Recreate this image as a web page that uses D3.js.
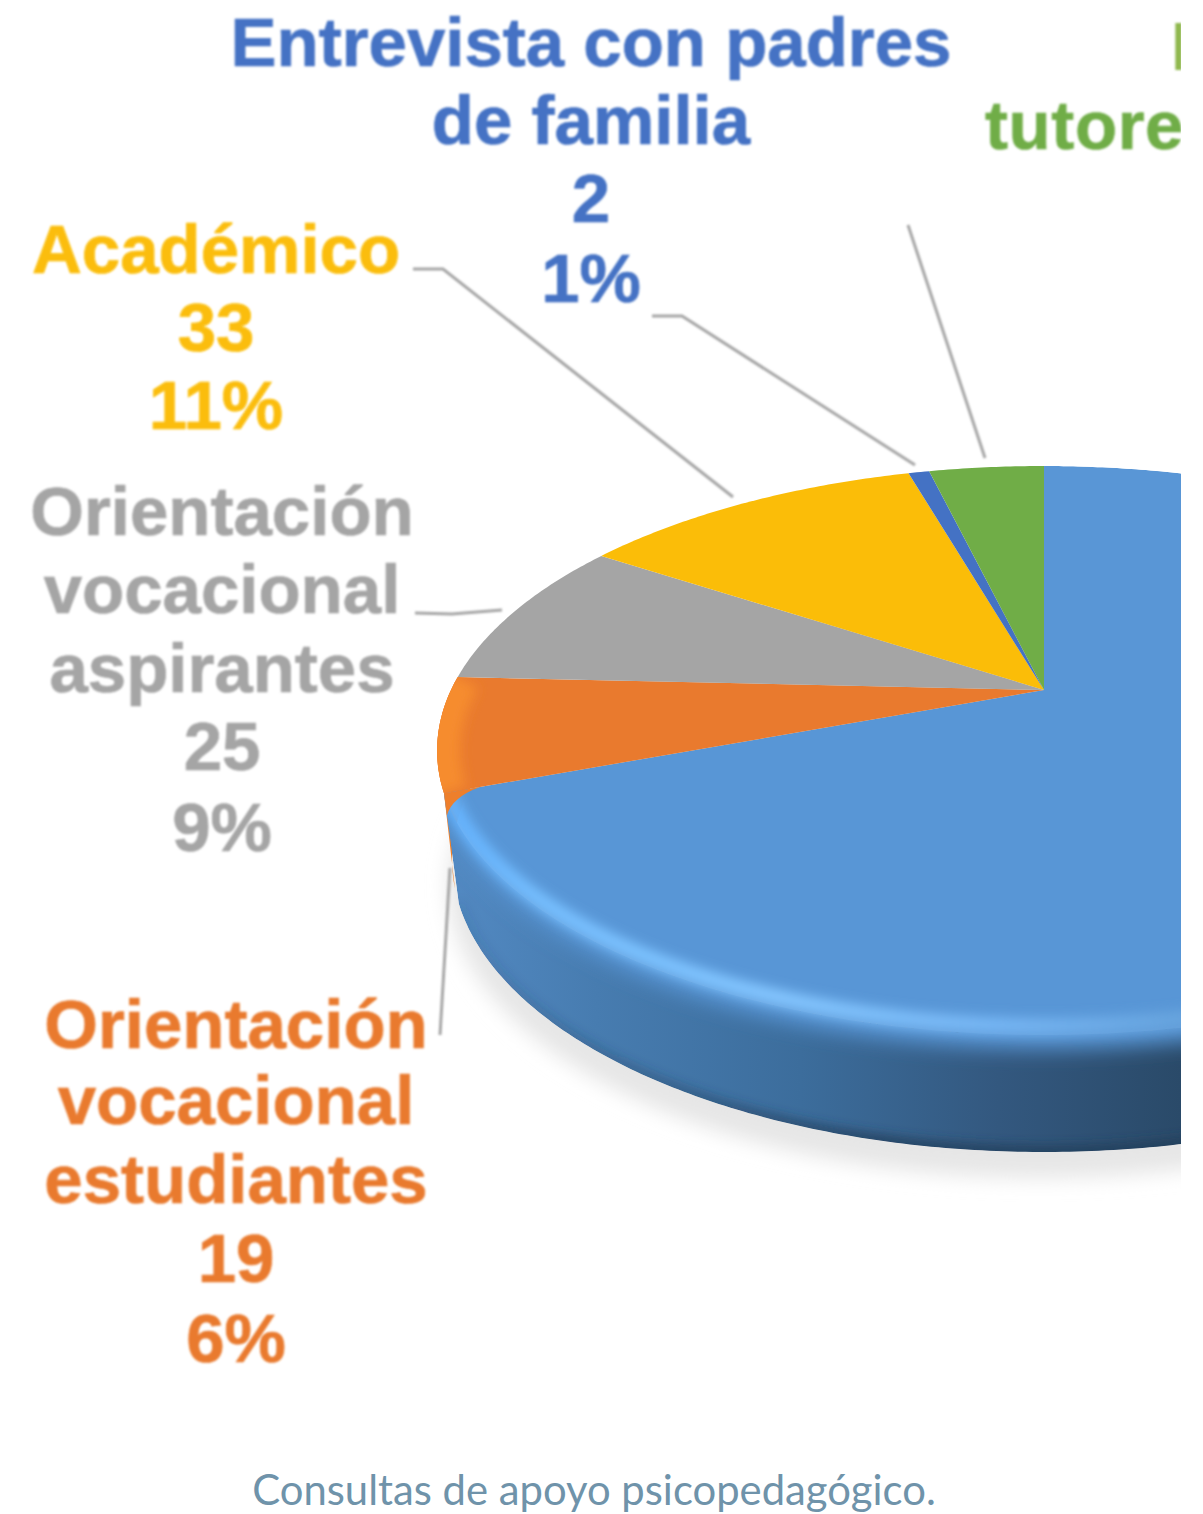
<!DOCTYPE html>
<html>
<head>
<meta charset="utf-8">
<script src="https://cdn.jsdelivr.net/npm/d3@7"></script>
<style>
  html, body { margin: 0; padding: 0; background: #fff; }
  svg { display: block; }
</style>
</head>
<body>
<div id="chart"></div>
<script>
// values in pie order, clockwise from twelve o'clock
var categories = ["Principal", "Orientación vocacional estudiantes", "Orientación vocacional aspirantes", "Académico", "Entrevista con padres de familia", "Entrevista con tutores"];
var values = [203, 19, 25, 33, 2, 11];
var colors = ["#5996d6", "#e97a2e", "#a5a5a5", "#fbbd08", "#4472c4", "#70ad47"];
var caption = "Consultas de apoyo psicopedagógico.";

var width = 1203, height = 1514, cropX = 1181;

var svg = d3.select("#chart").append("svg").attr("width", width).attr("height", height);
var defs = svg.append("defs");

function blur(id, dev) {
	defs.append("filter").attr("id", id)
		.attr("filterUnits", "userSpaceOnUse")
		.attr("x", 0).attr("y", 0).attr("width", width).attr("height", height)
		.append("feGaussianBlur").attr("stdDeviation", dev);
}
blur("b1", 0.8);
blur("b6", 6);
blur("b10", 10);

defs.append("clipPath").attr("id", "crop").append("rect")
	.attr("width", cropX).attr("height", height);

// perspective view of the disc
var cx = 1044, apexY = 690, k = 0.2127, ay = 271.6, ax = 593;
function rim(a) {
	var u = Math.sin(a), v = -Math.cos(a), w = 1 - k * v;
	return [cx + ax * u / w, apexY + ay * v / w];
}
function low(a) {
	var p = rim(a);
	return [cx + (p[0] - cx) * 592 / 607, 860 + (p[1] - 750.5) * 292 / 284.5];
}
function sweep(f, a0, a1) {
	var n = Math.max(2, Math.ceil(Math.abs(a1 - a0) / 0.01));
	return d3.range(n + 1).map(function(i) { return f(a0 + (a1 - a0) * i / n); });
}
function lerp(p, q, t) { return [p[0] + (q[0] - p[0]) * t, p[1] + (q[1] - p[1]) * t]; }
function gradient(id, stops) {
	var g = defs.append("linearGradient").attr("id", id)
		.attr("gradientUnits", "userSpaceOnUse")
		.attr("x1", 450).attr("x2", cropX).attr("y1", 0).attr("y2", 0);
	stops.forEach(function(s) {
		g.append("stop").attr("offset", s[0]).attr("stop-color", s[1]).attr("stop-opacity", s[2] === undefined ? 1 : s[2]);
	});
}
var line = d3.line();
var apex = [cx, apexY];

var arcs = d3.pie().sort(null)(values);
var total = d3.sum(values);
var mainEnd = arcs[0].endAngle;

var chart = svg.append("g").attr("clip-path", "url(#crop)");

// floor shadow
chart.append("path")
	.attr("d", line(sweep(function(a) { var p = low(a); return [p[0] - 4, p[1] + 26]; }, 0, 2 * Math.PI)) + "Z")
	.attr("fill", "#e6e6e6")
	.attr("filter", "url(#b10)");

// orange side
var orangeSide = sweep(rim, arcs[1].endAngle, mainEnd).concat(sweep(low, mainEnd + 0.05, arcs[1].endAngle));
chart.append("path").attr("d", line(orangeSide) + "Z").attr("fill", "#f08028");

// blue side
gradient("wall", [[0, "#5289c2"], [0.2, "#477cb0"], [0.48, "#3c6d9c"], [0.75, "#33587f"], [1, "#2a4a69"]]);
gradient("foot", [[0, "#223c58", 0.1], [0.3, "#223c58", 0.45], [0.6, "#223c58", 1], [1, "#223c58", 1]]);
gradient("hi", [[0, "#62b2ff"], [0.12, "#76bfff"], [0.45, "#84c6ff"], [0.75, "#76b6f4"], [1, "#67a4de"]]);

var wallPts = sweep(rim, Math.PI / 2, mainEnd).concat(sweep(low, mainEnd, Math.PI / 2));
var facePts = [apex].concat(sweep(rim, 0, mainEnd));

defs.append("clipPath").attr("id", "body").selectAll("path")
	.data([wallPts, facePts]).join("path")
	.attr("d", function(d) { return line(d) + "Z"; });

var bodyG = chart.append("g").attr("clip-path", "url(#body)");
bodyG.append("path").attr("d", line(wallPts) + "Z").attr("fill", "url(#wall)");
// dark foot of the side
bodyG.append("path")
	.attr("d", line(sweep(low, Math.PI / 2, mainEnd)))
	.attr("fill", "none").attr("stroke", "url(#foot)").attr("stroke-width", 10)
	.attr("filter", "url(#b6)");
// soft shoulder between side and face
var shoulder = sweep(function(a) { var p = rim(a); return [p[0], p[1] + 14]; }, 0.3, mainEnd + 0.5)
	.concat([[cx - 300, apexY - 120], [cx, apexY - 120]]);
bodyG.append("path").attr("d", line(shoulder) + "Z").attr("fill", colors[0]).attr("filter", "url(#b10)");
bodyG.append("path").attr("d", line([apex].concat(sweep(rim, 0, Math.PI / 2))) + "Z").attr("fill", colors[0]);
bodyG.append("path")
	.attr("d", line(sweep(function(a) { var p = rim(a); return [p[0], p[1] - 9]; }, 1.6, mainEnd + 0.05)))
	.attr("fill", "none").attr("stroke", "url(#hi)").attr("stroke-width", 16)
	.attr("filter", "url(#b6)");

// flat faces of the small slices
chart.selectAll("path.slice")
	.data(arcs.slice(1))
	.join("path")
	.attr("class", "slice")
	.attr("d", function(d) { return line([apex].concat(sweep(rim, d.startAngle, d.endAngle))) + "Z"; })
	.attr("fill", function(d, i) { return colors[i + 1]; });

// lit edge of the orange slice
defs.append("clipPath").attr("id", "orangeFace").append("path")
	.attr("d", line([apex].concat(sweep(rim, arcs[1].startAngle, arcs[1].endAngle))) + "Z");
chart.append("g").attr("clip-path", "url(#orangeFace)").append("path")
	.attr("d", line(sweep(rim, arcs[1].startAngle, arcs[1].endAngle)))
	.attr("fill", "none").attr("stroke", "#f68c2e").attr("stroke-width", 46)
	.attr("filter", "url(#b6)");

// the blue tip is rounded, orange shows around it
var tip = rim(mainEnd);
var cornerA = lerp(apex, tip, 0.94);
var cornerB = lerp(tip, low(mainEnd), 0.2);
var corner = d3.path();
corner.moveTo(tip[0], tip[1]);
corner.lineTo(cornerA[0], cornerA[1]);
corner.quadraticCurveTo(tip[0] + 8, tip[1] + 4, cornerB[0], cornerB[1]);
corner.closePath();
chart.append("path").attr("d", corner.toString()).attr("fill", "#ee7f2b");

// leaders
var leaders = [
	[[440, 1035], [450, 868]],
	[[415, 613], [452, 614], [502, 610]],
	[[413, 269], [443, 269], [733, 497]],
	[[652, 316], [682, 316], [915, 465]],
	[[908, 225], [985, 458]]
];
chart.selectAll("path.leader").data(leaders).join("path")
	.attr("class", "leader")
	.attr("d", line)
	.attr("fill", "none").attr("stroke", "#a6a6a6").attr("stroke-width", 3)
	.attr("filter", "url(#b1)");

// data labels
function pct(i) { return Math.round(values[i] / total * 100) + "%"; }
var labels = [
	{ i: 1, x: 236, lines: ["Orientación", "vocacional", "estudiantes", values[1], pct(1)], ys: [1048, 1124, 1203, 1282, 1362] },
	{ i: 2, x: 222, lines: ["Orientación", "vocacional", "aspirantes", values[2], pct(2)], ys: [535, 613, 692, 770, 851] },
	{ i: 3, x: 216, lines: ["Académico", values[3], pct(3)], ys: [273, 351, 429] },
	{ i: 4, x: 591, lines: ["Entrevista con padres", "de familia", values[4], pct(4)], ys: [66, 144, 222, 302] }
];
var labelG = chart.append("g")
	.attr("font-family", "'Liberation Sans', Arial, sans-serif")
	.attr("font-weight", 700)
	.attr("font-size", 69)
	.attr("stroke-width", 0.7)
	.attr("filter", "url(#b1)");
labels.forEach(function(l) {
	labelG.selectAll(null).data(l.lines).join("text")
		.attr("x", l.x)
		.attr("y", function(d, j) { return l.ys[j]; })
		.attr("text-anchor", "middle")
		.attr("fill", colors[l.i])
		.attr("stroke", colors[l.i])
		.text(function(d) { return d; });
});
// the tutores label is cut by the edge of the picture, only this much of it shows
labelG.append("text").attr("x", 1169).attr("y", 70).attr("fill", "#8fb84e")
	.attr("font-weight", 400).attr("stroke", "none").text("I");
labelG.append("text").attr("x", 985).attr("y", 149).attr("fill", colors[5]).attr("stroke", colors[5])
	.attr("letter-spacing", 0.6).text("tutore");

svg.append("text")
	.attr("x", 594).attr("y", 1505)
	.attr("text-anchor", "middle")
	.attr("font-family", "Lato, 'Noto Sans', sans-serif")
	.attr("font-size", 41.8)
	.attr("fill", "#6f93aa")
	.text(caption);
</script>
</body>
</html>
